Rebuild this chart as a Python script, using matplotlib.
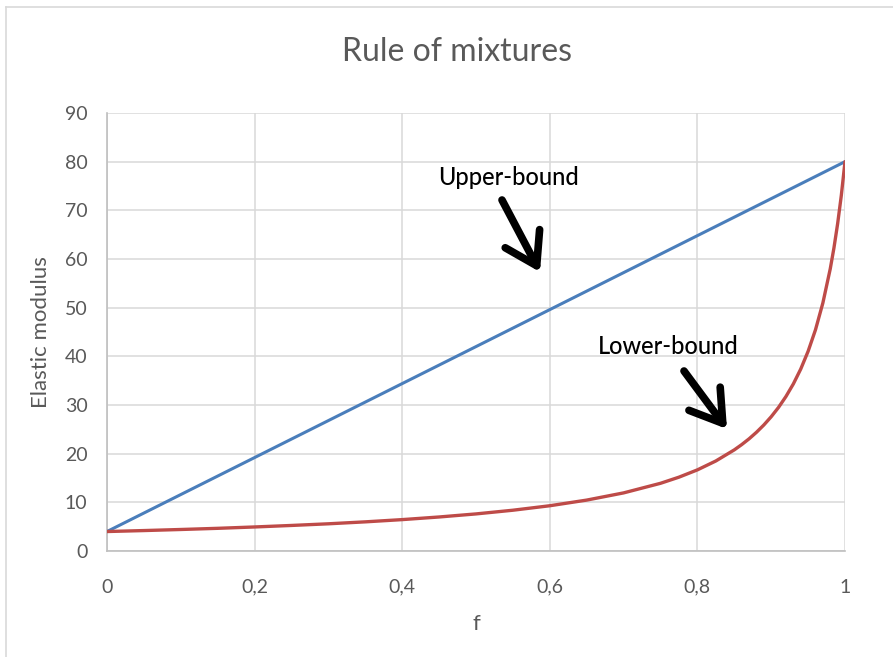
import matplotlib
matplotlib.use("Agg")
import matplotlib.pyplot as plt
from matplotlib.lines import Line2D

f_upper = [0.0, 1.0]
upper = [4.0, 80.0]

f_lower = [0.0, 0.05, 0.1, 0.15, 0.2, 0.25, 0.3, 0.35, 0.4, 0.45, 0.5, 0.55, 0.6,
           0.65, 0.7, 0.75, 0.775, 0.8, 0.825, 0.85, 0.86, 0.87, 0.88, 0.89, 0.9,
           0.91, 0.92, 0.93, 0.94, 0.95, 0.96, 0.97, 0.98, 0.985, 0.99, 0.995, 1.0]
lower = [4.0, 4.20, 4.42, 4.66, 4.94, 5.25, 5.59, 5.99, 6.45, 6.99, 7.62, 8.38, 9.30,
         10.46, 11.94, 13.91, 15.17, 16.67, 18.50, 20.78, 21.86, 23.05, 24.39, 25.89, 27.59,
         29.52, 31.75, 34.33, 37.38, 41.03, 45.45, 50.96, 57.97, 62.26, 67.23, 73.06, 80.0]

xticks = [0, 0.2, 0.4, 0.6, 0.8, 1.0]
xtick_labels = ["0", "0,2", "0,4", "0,6", "0,8", "1"]
yticks = [0, 10, 20, 30, 40, 50, 60, 70, 80, 90]

plt.rcParams['font.family'] = ['Lato', 'DejaVu Sans']
W, H = 893, 657
fig = plt.figure(figsize=(W / 100, H / 100), dpi=100)
ax = fig.add_axes([107 / W, 1 - 551 / H, (845 - 107) / W, (551 - 113) / H])

gray = "#595959"
grid = "#d9d9d9"
ax.plot(f_upper, upper, color="#4a7ebb", lw=2.2, solid_capstyle="round", zorder=3)
ax.plot(f_lower, lower, color="#be4b48", lw=2.4, solid_capstyle="round",
        solid_joinstyle="round", zorder=3)

ax.set_xlim(0, 1)
ax.set_ylim(0, 90)
ax.set_xticks(xticks)
ax.set_xticklabels(xtick_labels)
ax.set_yticks(yticks)
ax.tick_params(length=0, labelsize=14, colors=gray)
ax.tick_params(axis="x", pad=20)
ax.tick_params(axis="y", pad=14)
ax.grid(True, color=grid, lw=1.1)
ax.set_axisbelow(True)
for s in ["top", "right"]:
    ax.spines[s].set_visible(False)
for s in ["left", "bottom"]:
    ax.spines[s].set_color("#bfbfbf")
    ax.spines[s].set_linewidth(1.2)

ax.set_xlabel("f", fontsize=16, color=gray, labelpad=13)
ax.set_ylabel("Elastic modulus", fontsize=16, color=gray, labelpad=10)
fig.text(457 / W, 1 - 52 / H, "Rule of mixtures", ha="center", va="center",
         fontsize=23, color=gray)

# annotations
def px_to_data(px, py):
    x = (px - 107) / (845 - 107)
    y = (551 - py) / (551 - 113) * 90
    return x, y

ax.text(*px_to_data(508, 178), "Upper-bound", ha="center", va="center",
        fontsize=17, fontweight="medium", color="black")
ax.text(*px_to_data(668, 347), "Lower-bound", ha="center", va="center",
        fontsize=17, fontweight="medium", color="black")
arrow_style = dict(arrowstyle="->,head_length=0.55,head_width=0.35", color="black",
                   lw=5.5, shrinkA=0, shrinkB=0, mutation_scale=40,
                   capstyle="round", joinstyle="round")
ax.annotate("", xy=px_to_data(540, 272), xytext=px_to_data(502, 200), arrowprops=arrow_style)
ax.annotate("", xy=px_to_data(727, 429), xytext=px_to_data(684, 371), arrowprops=arrow_style)

# outer chart frame
fig.add_artist(Line2D([6 / W, 6 / W], [0, 1 - 7 / H], transform=fig.transFigure,
                      color="#d9d9d9", lw=1.2))
fig.add_artist(Line2D([6 / W, 1], [1 - 7 / H, 1 - 7 / H], transform=fig.transFigure,
                      color="#d9d9d9", lw=1.2))

fig.savefig("out.png", dpi=100)
